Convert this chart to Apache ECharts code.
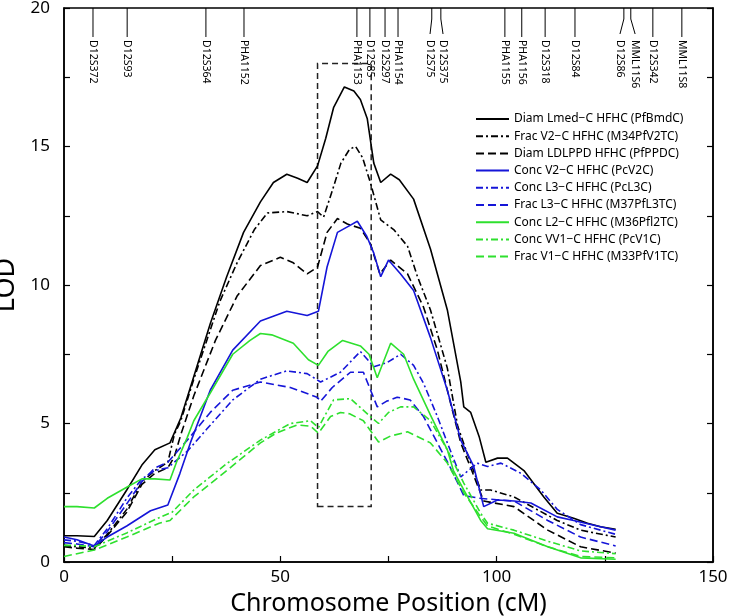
<!DOCTYPE html>
<html>
<head>
<meta charset="utf-8">
<script src="https://cdn.jsdelivr.net/npm/echarts@6/dist/echarts.min.js"></script>
<style>html,body{margin:0;padding:0;background:#fff}#c{width:730px;height:616px}</style>
</head>
<body>
<div id="c"></div>
<script>
// ---- Data (cM, LOD) ----
var diamLmed = [[0,0.95],[3,0.95],[7,0.92],[10,1.5],[14.5,2.6],[18,3.5],[21,4.05],[24.5,4.3],[27,5.2],[30,6.7],[33.8,8.6],[37.6,10.3],[41.5,11.9],[45.4,13.0],[48.4,13.7],[51.5,14.0],[54,13.85],[56.2,13.7],[58.6,14.3],[60.5,15.3],[62.3,16.4],[64.8,17.15],[67,17.0],[68.5,16.7],[70.1,16.0],[71.6,14.4],[73.2,13.7],[75.5,14.0],[77.5,13.8],[80.8,13.1],[84.7,11.3],[88.6,9.1],[91.7,6.5],[92.4,5.6],[94,5.4],[96,4.5],[97.5,3.6],[100.2,3.75],[102.5,3.75],[106.3,3.3],[110.9,2.35],[114,1.76],[117.8,1.58],[121,1.4],[124,1.27],[127.5,1.18]];
var fracV2 = [[0,0.6],[3,0.55],[7,0.5],[10,1.0],[14.5,1.9],[18,2.9],[21,3.3],[24,3.6],[25.5,4.6],[27,5.1],[30,6.6],[33,8.0],[36,9.4],[40,10.8],[44,12.0],[47,12.6],[51.5,12.65],[56.2,12.5],[58.6,12.65],[60,12.45],[62,13.4],[64,14.4],[66,14.9],[67.4,15.0],[69,14.6],[70.8,13.7],[73.2,12.35],[76.2,12.0],[79.4,11.4],[81.7,10.3],[84.7,9.1],[88.6,7.0],[91,4.9],[93,4.0],[96.3,2.6],[98.6,2.6],[104,2.35],[109.5,1.88],[114,1.5],[119.4,1.15],[127.5,0.9]];
var diamLDLPPD = [[0,0.55],[3,0.5],[7,0.45],[10,0.95],[14.5,1.8],[18,2.8],[21,3.2],[24,3.4],[25.5,3.8],[27,4.6],[30,6.0],[35,8.0],[40,9.6],[45.4,10.7],[50,11.0],[53,10.8],[56.2,10.4],[58.6,10.65],[60.8,11.9],[63.2,12.4],[65.5,12.2],[68.5,12.05],[70.8,11.5],[73,10.4],[75.5,10.9],[79.4,10.4],[83.1,9.2],[86.3,7.65],[89.4,5.7],[91.7,4.3],[94,3.4],[97,2.2],[104,2.0],[111.8,1.15],[119.4,0.55],[127.5,0.32]];
var concV2 = [[0,0.9],[3,0.8],[7,0.58],[10,0.9],[14.5,1.3],[20,1.85],[24,2.06],[26.8,3.2],[29.2,4.3],[33.8,6.2],[39,7.65],[45.4,8.7],[51.5,9.05],[56.2,8.9],[58.8,9.05],[60.8,10.65],[63.2,11.9],[65.5,12.1],[67.8,12.3],[70,11.75],[71.6,11.15],[73.2,10.3],[75,10.9],[77.8,10.4],[80.8,9.8],[84.7,8.1],[88.6,6.2],[91.7,4.4],[94.7,3.45],[97,2.0],[100.2,2.24],[104,2.2],[107.9,2.13],[114,1.63],[117.8,1.5],[124,1.27],[127.5,1.15]];
var concL3 = [[0,0.8],[3,0.75],[7,0.6],[10,1.2],[14.5,2.3],[18,3.0],[21,3.3],[24,3.4],[28.5,4.0],[33,4.8],[39,5.85],[45.4,6.6],[51.5,6.9],[56.2,6.8],[59.3,6.5],[63.9,6.85],[68.5,7.6],[71.6,7.05],[74.7,7.2],[77.8,7.5],[80.8,7.1],[83.1,6.45],[86.3,5.25],[88.6,4.3],[91.7,3.07],[95.5,3.57],[97.9,3.45],[101,3.57],[105.6,3.2],[110.2,2.6],[114,1.9],[119.4,1.35],[127.5,1.0]];
var fracL3 = [[0,0.7],[3,0.65],[7,0.55],[10,1.1],[14.5,2.1],[18,2.9],[21,3.4],[24,3.6],[28.5,4.4],[33.8,5.4],[39,6.2],[45.4,6.5],[52.3,6.3],[58.5,5.95],[59.3,5.8],[62,6.3],[66.2,6.85],[69.2,6.85],[72.4,5.6],[74.5,5.8],[77,5.95],[80,5.85],[83.1,5.25],[86.3,4.3],[89,3.5],[92.4,2.4],[96,2.3],[100,2.25],[104,2.2],[111.8,1.5],[119.4,0.9],[127.5,0.58]];
var concL2 = [[0,2.0],[3,2.0],[7,1.95],[10,2.3],[14.5,2.7],[18,3.0],[21,3.0],[24.5,2.96],[26,3.6],[28.5,4.5],[30,5.1],[33.8,6.1],[39,7.5],[43,8.0],[45.4,8.25],[48,8.2],[53,7.9],[56.5,7.3],[58.8,7.1],[61,7.6],[64.4,8.0],[68.5,7.8],[70.5,7.5],[72.4,6.65],[75.5,7.9],[78.5,7.5],[80.8,6.6],[84.7,5.3],[88.6,4.05],[90,3.3],[92.4,2.6],[96.3,1.5],[97.9,1.2],[104,1.04],[111.8,0.55],[119.4,0.15],[127.5,0.1]];
var concVV1 = [[0,0.6],[3,0.6],[7,0.55],[14.5,1.05],[22,1.6],[25,1.8],[30,2.6],[37.6,3.55],[45.4,4.4],[52.3,5.0],[57,5.1],[58.8,4.85],[60,5.2],[62.3,5.85],[66.2,5.9],[70.8,5.25],[72.7,5.0],[75,5.4],[77.8,5.6],[80.8,5.6],[84.7,5.1],[88.6,4.05],[92.4,2.85],[96.3,1.76],[97.9,1.4],[104,1.15],[111.8,0.75],[119.4,0.4],[127.5,0.3]];
var fracV1 = [[0,0.2],[3,0.3],[7,0.43],[14.5,0.9],[22,1.4],[24.5,1.5],[30,2.35],[37.6,3.3],[45.4,4.3],[49,4.65],[53.9,4.95],[57,4.9],[58.8,4.65],[61.6,5.25],[63.9,5.4],[66,5.35],[69.2,5.1],[72.7,4.33],[75.5,4.55],[79.4,4.7],[84.7,4.3],[88.6,3.57],[92.4,2.5],[96.3,1.63],[97.9,1.3],[104,1.0],[111.8,0.55],[119.4,0.2],[127.5,0.15]];

var seriesNames = ['Diam Lmed\u2212C HFHC (PfBmdC)','Frac V2\u2212C HFHC (M34PfV2TC)','Diam LDLPPD HFHC (PfPPDC)','Conc V2\u2212C HFHC (PcV2C)','Conc L3\u2212C HFHC (PcL3C)','Frac L3\u2212C HFHC (M37PfL3TC)','Conc L2\u2212C HFHC (M36Pfl2TC)','Conc VV1\u2212C HFHC (PcV1C)','Frac V1\u2212C HFHC (M33PfV1TC)'];

// Marker positions (cM) along the chromosome
var markerNames = ['D12S372','D12S93','D12S364','PHA1152','PHA1153','D12S85','D12S297','PHA1154','D12S75','D12S375','PHA1155','PHA1156','D12S318','D12S84','D12S86','MML11S6','D12S342','MML11S8'];
var markerPos   = [6.7,14.6,32.8,41.6,67.7,70.7,74.2,77.2,85.0,87.1,101.9,105.8,111.2,118.1,129.4,131.0,136.1,142.8];
var markerLabelPos = [6.7,14.6,32.8,41.6,67.7,70.7,74.2,77.2,84.6,87.6,101.9,105.8,111.2,118.1,128.5,132.0,136.1,142.8];

// Dashed box (cM range, LOD range)
var boxX = [58.6, 71.0];
var boxY = [2.0, 18.0];

var xTicks = [0, 150, 25];
var yTicks = [0, 20, 2.5];

var BLACK = '#000000', BLUE = '#1515d8', GREEN = '#2ee02e';
var FONT = 'Noto Sans';

function lineSeries(name, data, color, dash) {
  return {
    name: name, type: 'line', data: data, symbol: 'circle', showSymbol: false, smooth: false,
    lineStyle: { color: color, width: 1.6, type: dash },
    itemStyle: { color: color }, z: 3, animation: false
  };
}

var DASHDOT = [7, 3, 2, 3];
var DASH = [8, 4];

var series = [
  lineSeries(seriesNames[0], diamLmed, BLACK, 'solid'),
  lineSeries(seriesNames[1], fracV2, BLACK, DASHDOT),
  lineSeries(seriesNames[2], diamLDLPPD, BLACK, DASH),
  lineSeries(seriesNames[3], concV2, BLUE, 'solid'),
  lineSeries(seriesNames[4], concL3, BLUE, DASHDOT),
  lineSeries(seriesNames[5], fracL3, BLUE, DASH),
  lineSeries(seriesNames[6], concL2, GREEN, 'solid'),
  lineSeries(seriesNames[7], concVV1, GREEN, DASHDOT),
  lineSeries(seriesNames[8], fracV1, GREEN, DASH)
];

series[0].markArea = {
  silent: true,
  itemStyle: { color: 'rgba(0,0,0,0)', borderColor: '#222', borderWidth: 1.5, borderType: [6, 4] },
  data: [[{ coord: [boxX[0], boxY[0]] }, { coord: [boxX[1], boxY[1]] }]]
};

var markerData = markerPos.map(function (p, i) { return [p, markerLabelPos[i], i]; });

series.push({
  type: 'custom', name: 'markers', data: markerData, clip: false, silent: true, z: 5,
  encode: { x: [0, 1] },
  renderItem: function (params, api) {
    var lp = api.value(0), tp = api.value(1), idx = api.value(2);
    var top = api.coord([lp, yTicks[1]]);
    var lab = api.coord([tp, yTicks[1]]);
    var pts;
    if (Math.abs(top[0] - lab[0]) > 0.5) {
      pts = [[top[0], top[1]], [top[0], top[1] + 11], [lab[0], top[1] + 26]];
    } else {
      pts = [[top[0], top[1]], [top[0], top[1] + 29]];
    }
    return {
      type: 'group',
      children: [
        { type: 'polyline', shape: { points: pts }, style: { stroke: '#000', lineWidth: 1, fill: null } },
        { type: 'text', x: lab[0], y: top[1] + 32, rotation: -Math.PI / 2,
          style: { text: markerNames[idx], x: 0, y: 0, align: 'left', verticalAlign: 'middle',
                   fontSize: 10.5, fontFamily: FONT, fill: '#000' } }
      ]
    };
  }
});

var chart = echarts.init(document.getElementById('c'), null, { renderer: 'canvas' });
chart.setOption({
  animation: false,
  backgroundColor: '#fff',
  grid: { left: 64, right: 17, top: 8, bottom: 54, outerBoundsMode: 'none', containLabel: false,
          show: true, borderColor: '#000', borderWidth: 1.5, backgroundColor: 'transparent' },
  legend: {
    data: seriesNames, orient: 'vertical', left: 470, top: 108,
    itemWidth: 33, itemHeight: 12, itemGap: 5.2,
    itemStyle: { opacity: 0, borderWidth: 0 },
    textStyle: { fontSize: 12, fontFamily: FONT, color: '#000' },
    selectedMode: false
  },
  xAxis: {
    type: 'value', min: xTicks[0], max: xTicks[1], interval: xTicks[2],
    name: 'Chromosome Position (cM)', nameLocation: 'middle', nameGap: 25,
    nameTextStyle: { fontSize: 25, fontFamily: FONT, color: '#000' },
    axisLine: { show: true, lineStyle: { color: '#000', width: 1.5 } },
    axisTick: { show: true, inside: true, length: 6, lineStyle: { color: '#000', width: 1.2 } },
    axisLabel: { fontSize: 17, fontFamily: FONT, color: '#000', margin: 7,
      formatter: function (v) { return v % 50 === 0 ? String(v) : ''; } },
    splitLine: { show: false }
  },
  yAxis: [{
    type: 'value', min: yTicks[0], max: yTicks[1], interval: yTicks[2],
    name: 'LOD', nameLocation: 'middle', nameGap: 22, nameRotate: 90,
    nameTextStyle: { fontSize: 27, fontFamily: FONT, color: '#000' },
    axisLine: { show: true, lineStyle: { color: '#000', width: 1.5 } },
    axisTick: { show: true, inside: true, length: 6, lineStyle: { color: '#000', width: 1.2 } },
    axisLabel: { fontSize: 17, fontFamily: FONT, color: '#000', margin: 14,
      formatter: function (v) { return v % 5 === 0 ? String(v) : ''; } },
    splitLine: { show: false }
  }, {
    type: 'value', position: 'right', min: yTicks[0], max: yTicks[1], interval: yTicks[2],
    axisLine: { show: true, lineStyle: { color: '#000', width: 1.5 } },
    axisTick: { show: true, inside: true, length: 6, lineStyle: { color: '#000', width: 1.2 } },
    axisLabel: { show: false }, splitLine: { show: false }
  }],
  series: series
});
</script>
</body>
</html>
